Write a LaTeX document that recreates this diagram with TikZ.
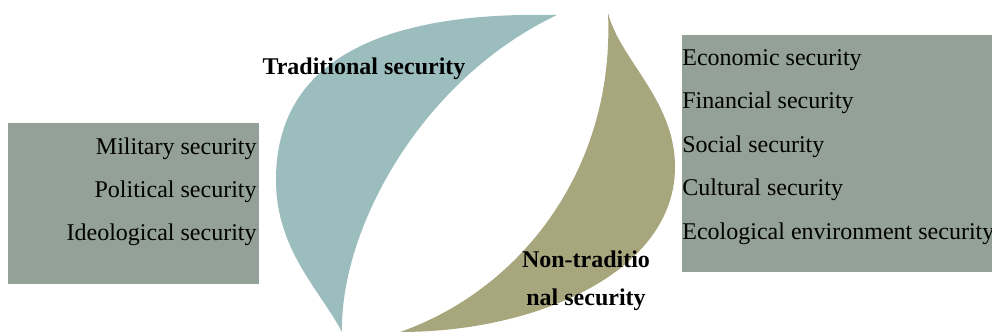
\documentclass[tikz,border=0pt]{standalone}
\usepackage{fontspec}
\setmainfont{Liberation Serif}
\usepackage{tikz}
\usetikzlibrary{positioning}
\definecolor{boxgray}{HTML}{93A199}
\definecolor{leafteal}{HTML}{9BBDBD}
\definecolor{leafolive}{HTML}{A8A67D}
\tikzset{listbox/.style={fill=boxgray}}
\tikzset{item/.style={inner sep=0pt, font=\fontsize{12}{14}\selectfont}}
\tikzset{leaflabel/.style={inner sep=0pt, font=\fontsize{12}{14}\selectfont\bfseries}}

\begin{document}
\begin{tikzpicture}[x=0.5pt, y=-0.5pt]
        \useasboundingbox (0,0) rectangle (992,332);
        % the two groups
        \fill[listbox] (8,123) rectangle (259,284);
        \fill[listbox] (682,35) rectangle (992,272);
        % leaves
        \fill[leafteal] (557,15) .. controls (420,12) and (276,40) .. (276,180)
            .. controls (276,250) and (320,290) .. (342,332)
            .. controls (340,230) and (420,80) .. (557,15) -- cycle;
        \fill[leafolive] (608,13) .. controls (620,60) and (675,100) .. (675,167)
            .. controls (675,270) and (540,332) .. (400,332)
            .. controls (520,290) and (615,170) .. (608,13) -- cycle;
        \node[leaflabel] (trad) at (364,69) {Traditional security};
        \node[leaflabel] (nontrad) at (586,259) {Non-traditio};
        \node[leaflabel] (nontradb) at (586,300) {nal security};
        % traditional items
        \node[item, anchor=east] (mil) at (257,149) {Military security};
        \node[item, anchor=east] (pol) at (257,192) {Political security};
        \node[item, anchor=east] (ideo) at (257,235) {Ideological security};
        % non-traditional items
        \node[item, anchor=west] (eco) at (682,60) {Economic security};
        \node[item, anchor=west] (fin) at (682,103) {Financial security};
        \node[item, anchor=west] (soc) at (682,147) {Social security};
        \node[item, anchor=west] (cul) at (682,190) {Cultural security};
        \node[item, anchor=west] (env) at (682,234) {Ecological environment security};
    \end{tikzpicture}
\end{document}
